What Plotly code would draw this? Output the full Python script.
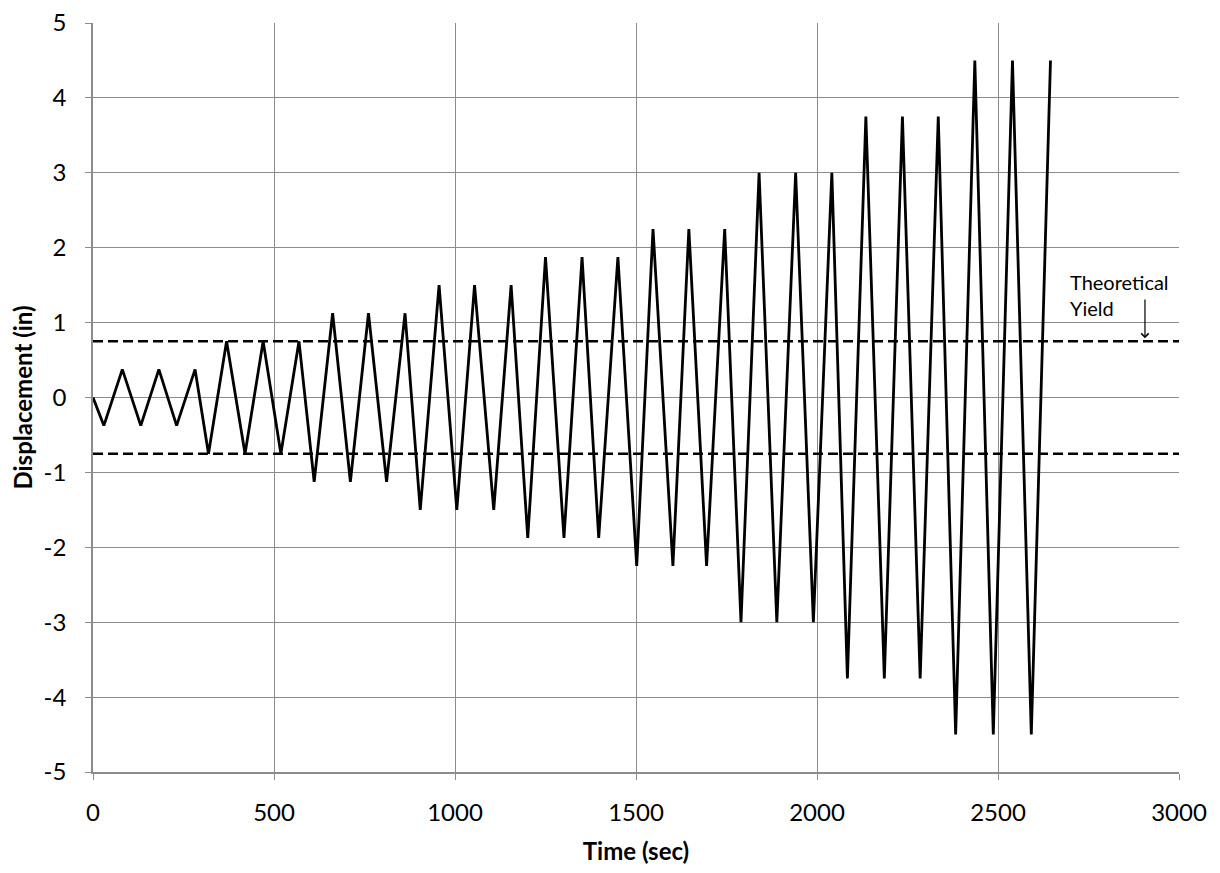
import plotly.graph_objects as go

# Loading protocol turning points
time_sec = [0, 30, 81, 132, 182, 231, 282, 319, 369, 420, 470, 519, 569,
            611, 662, 711, 761, 811, 862, 904, 956, 1005, 1054, 1107, 1155,
            1201, 1250, 1301, 1351, 1397, 1450, 1502, 1547, 1602, 1646, 1695, 1745,
            1790, 1840, 1889, 1941, 1990, 2041, 2084, 2135, 2186, 2236, 2285, 2335,
            2383, 2436, 2487, 2540, 2592, 2645]
displacement_in = [0, -0.375, 0.375, -0.375, 0.375, -0.375, 0.375, -0.75, 0.75, -0.75, 0.75, -0.75, 0.75,
                   -1.125, 1.125, -1.125, 1.125, -1.125, 1.125, -1.5, 1.5, -1.5, 1.5, -1.5, 1.5,
                   -1.875, 1.875, -1.875, 1.875, -1.875, 1.875, -2.25, 2.25, -2.25, 2.25, -2.25, 2.25,
                   -3.0, 3.0, -3.0, 3.0, -3.0, 3.0, -3.75, 3.75, -3.75, 3.75, -3.75, 3.75,
                   -4.5, 4.5, -4.5, 4.5, -4.5, 4.5]

yield_x = [0, 3000]
yield_pos = [0.75, 0.75]
yield_neg = [-0.75, -0.75]

x_ticks = [0, 500, 1000, 1500, 2000, 2500, 3000]
y_ticks = [-5, -4, -3, -2, -1, 0, 1, 2, 3, 4, 5]
y_tick_text = ["-5", "-4", "-3", "-2", "-1", "0", "1", "2", "3", "4", "5"]

FONT = "Lato"
GRID = "#8c8c8c"

fig = go.Figure()
fig.add_trace(go.Scatter(x=yield_x, y=yield_pos, mode="lines",
                         line=dict(color="black", width=2.5, dash="10px,5px"),
                         hoverinfo="skip", showlegend=False))
fig.add_trace(go.Scatter(x=yield_x, y=yield_neg, mode="lines",
                         line=dict(color="black", width=2.5, dash="10px,5px"),
                         hoverinfo="skip", showlegend=False))
fig.add_trace(go.Scatter(x=time_sec, y=displacement_in, mode="lines",
                         line=dict(color="black", width=2.8),
                         showlegend=False))

fig.add_annotation(x=2693, y=1.37, xref="x", yref="y", text="Theoretical<br>Yield",
                   showarrow=False, xanchor="left", yanchor="middle", align="left",
                   font=dict(family=FONT, size=20, color="black"))
fig.add_annotation(x=2906, y=0.79, xref="x", yref="y", ax=2906, ay=1.33,
                   axref="x", ayref="y", text="", showarrow=True,
                   arrowhead=4, arrowsize=1.2, arrowwidth=1.2, arrowcolor="black")

# page body adds an 8px offset, so the figure is sized to fit the window
fig.update_layout(
    width=1204, height=857,
    margin=dict(l=85, r=33, t=15, b=93),
    paper_bgcolor="white", plot_bgcolor="white",
    font=dict(family=FONT, color="black"),
)
fig.update_xaxes(range=[0, 3000], tickvals=x_ticks, showgrid=True, gridcolor=GRID, gridwidth=1,
                 zeroline=False, showline=True, linecolor=GRID, linewidth=1.5, automargin=False,
                 ticks="outside", ticklen=6, tickcolor=GRID, tickfont=dict(family=FONT, size=24),
                 ticklabelstandoff=12, ticklabeloverflow="allow",
                 title=dict(text="<b>Time (sec)</b>", font=dict(family=FONT, size=24), standoff=21))
fig.update_yaxes(range=[-5, 5], tickvals=y_ticks, ticktext=y_tick_text, showgrid=True,
                 gridcolor=GRID, gridwidth=1, automargin=False,
                 zeroline=False, showline=True, linecolor=GRID, linewidth=1.5,
                 ticks="outside", ticklen=6, tickcolor=GRID, tickfont=dict(family=FONT, size=24),
                 ticklabelstandoff=14, ticklabeloverflow="allow",
                 title=dict(text="<b>Displacement (in)</b>", font=dict(family=FONT, size=24), standoff=14))

fig.write_html("out.html")
